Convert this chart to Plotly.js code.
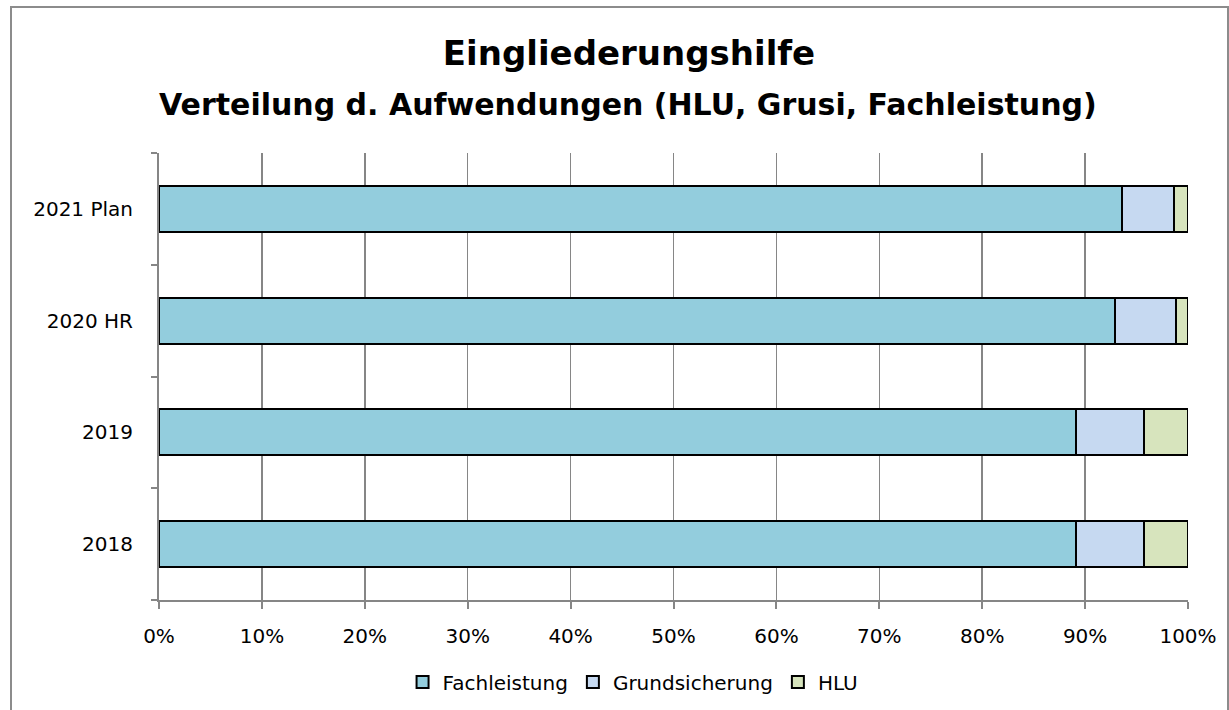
<!DOCTYPE html>
<html><head><meta charset="utf-8">
<script src="https://cdn.plot.ly/plotly-3.0.1.min.js"></script>
<style>
body{margin:0;background:#fff}
#wrap{position:relative;width:1229px;height:710px;overflow:hidden}
#chart{width:1229px;height:710px}
#frame{position:absolute;left:10px;top:6px;width:1215px;height:720px;border:2px solid #8c8c8c;pointer-events:none}
</style>
</head><body>
<div id="wrap"><div id="chart"></div><div id="frame"></div></div>
<script>
const categories = ['2018', '2019', '2020 HR', '2021 Plan'];
const fachleistung = [89.1, 89.1, 92.9, 93.6];
const grundsicherung = [6.6, 6.6, 5.9, 5.0];
const hlu = [4.3, 4.3, 1.2, 1.4];
const seriesNames = ['Fachleistung', 'Grundsicherung', 'HLU'];
const colors = ['#93CDDD', '#C6D9F1', '#D7E4BD'];
const titleText = 'Eingliederungshilfe';
const subtitleText = 'Verteilung d. Aufwendungen (HLU, Grusi, Fachleistung)';
const font = 'DejaVu Sans, sans-serif';

const values = [fachleistung, grundsicherung, hlu];
const traces = values.map((v, i) => ({
  type: 'bar', orientation: 'h', name: seriesNames[i], y: categories, x: v,
  marker: {color: colors[i], line: {color: '#000', width: 2}},
  hoverinfo: 'x+name'
}));

const layout = {
  width: 1229, height: 710,
  margin: {l: 159, r: 41, t: 153, b: 110, autoexpand: false},
  paper_bgcolor: '#fff', plot_bgcolor: '#fff',
  font: {family: font, color: '#000', size: 20},
  barmode: 'stack', bargap: 0.59,
  title: {
    text: titleText,
    font: {family: font, size: 34, weight: 700, color: '#000'},
    xref: 'container', x: 629 / 1229, xanchor: 'center',
    yref: 'container', y: 1 - 53 / 710, yanchor: 'middle'
  },
  annotations: [{
    text: subtitleText, showarrow: false,
    xref: 'paper', x: (628 - 159) / 1030, xanchor: 'center',
    yref: 'paper', y: (600 - 105) / 447, yanchor: 'middle',
    font: {family: font, size: 30, weight: 700, color: '#000'}
  }],
  xaxis: {
    range: [0, 100], dtick: 10, ticksuffix: '%',
    showgrid: true, gridcolor: '#868686', gridwidth: 1.5,
    showline: true, linecolor: '#868686', linewidth: 2,
    ticks: 'outside', ticklen: 7, tickcolor: '#868686', tickwidth: 2,
    ticklabelstandoff: 10, automargin: false,
    zeroline: false, fixedrange: true, tickfont: {size: 20}
  },
  yaxis: {
    type: 'category', tickson: 'boundaries',
    showgrid: false, showline: true, linecolor: '#868686', linewidth: 2,
    ticks: 'outside', ticklen: 6, tickcolor: '#868686', tickwidth: 2,
    ticklabelstandoff: 20, automargin: false,
    zeroline: false, fixedrange: true, tickfont: {size: 20}
  },
  legend: {
    orientation: 'h', x: 0.4607, xanchor: 'center', y: (600 - 682) / 447, yanchor: 'middle',
    traceorder: 'normal', font: {size: 20}
  },
  showlegend: true
};
Plotly.newPlot('chart', traces, layout, {displayModeBar: false, staticPlot: true});
</script>
</body></html>
